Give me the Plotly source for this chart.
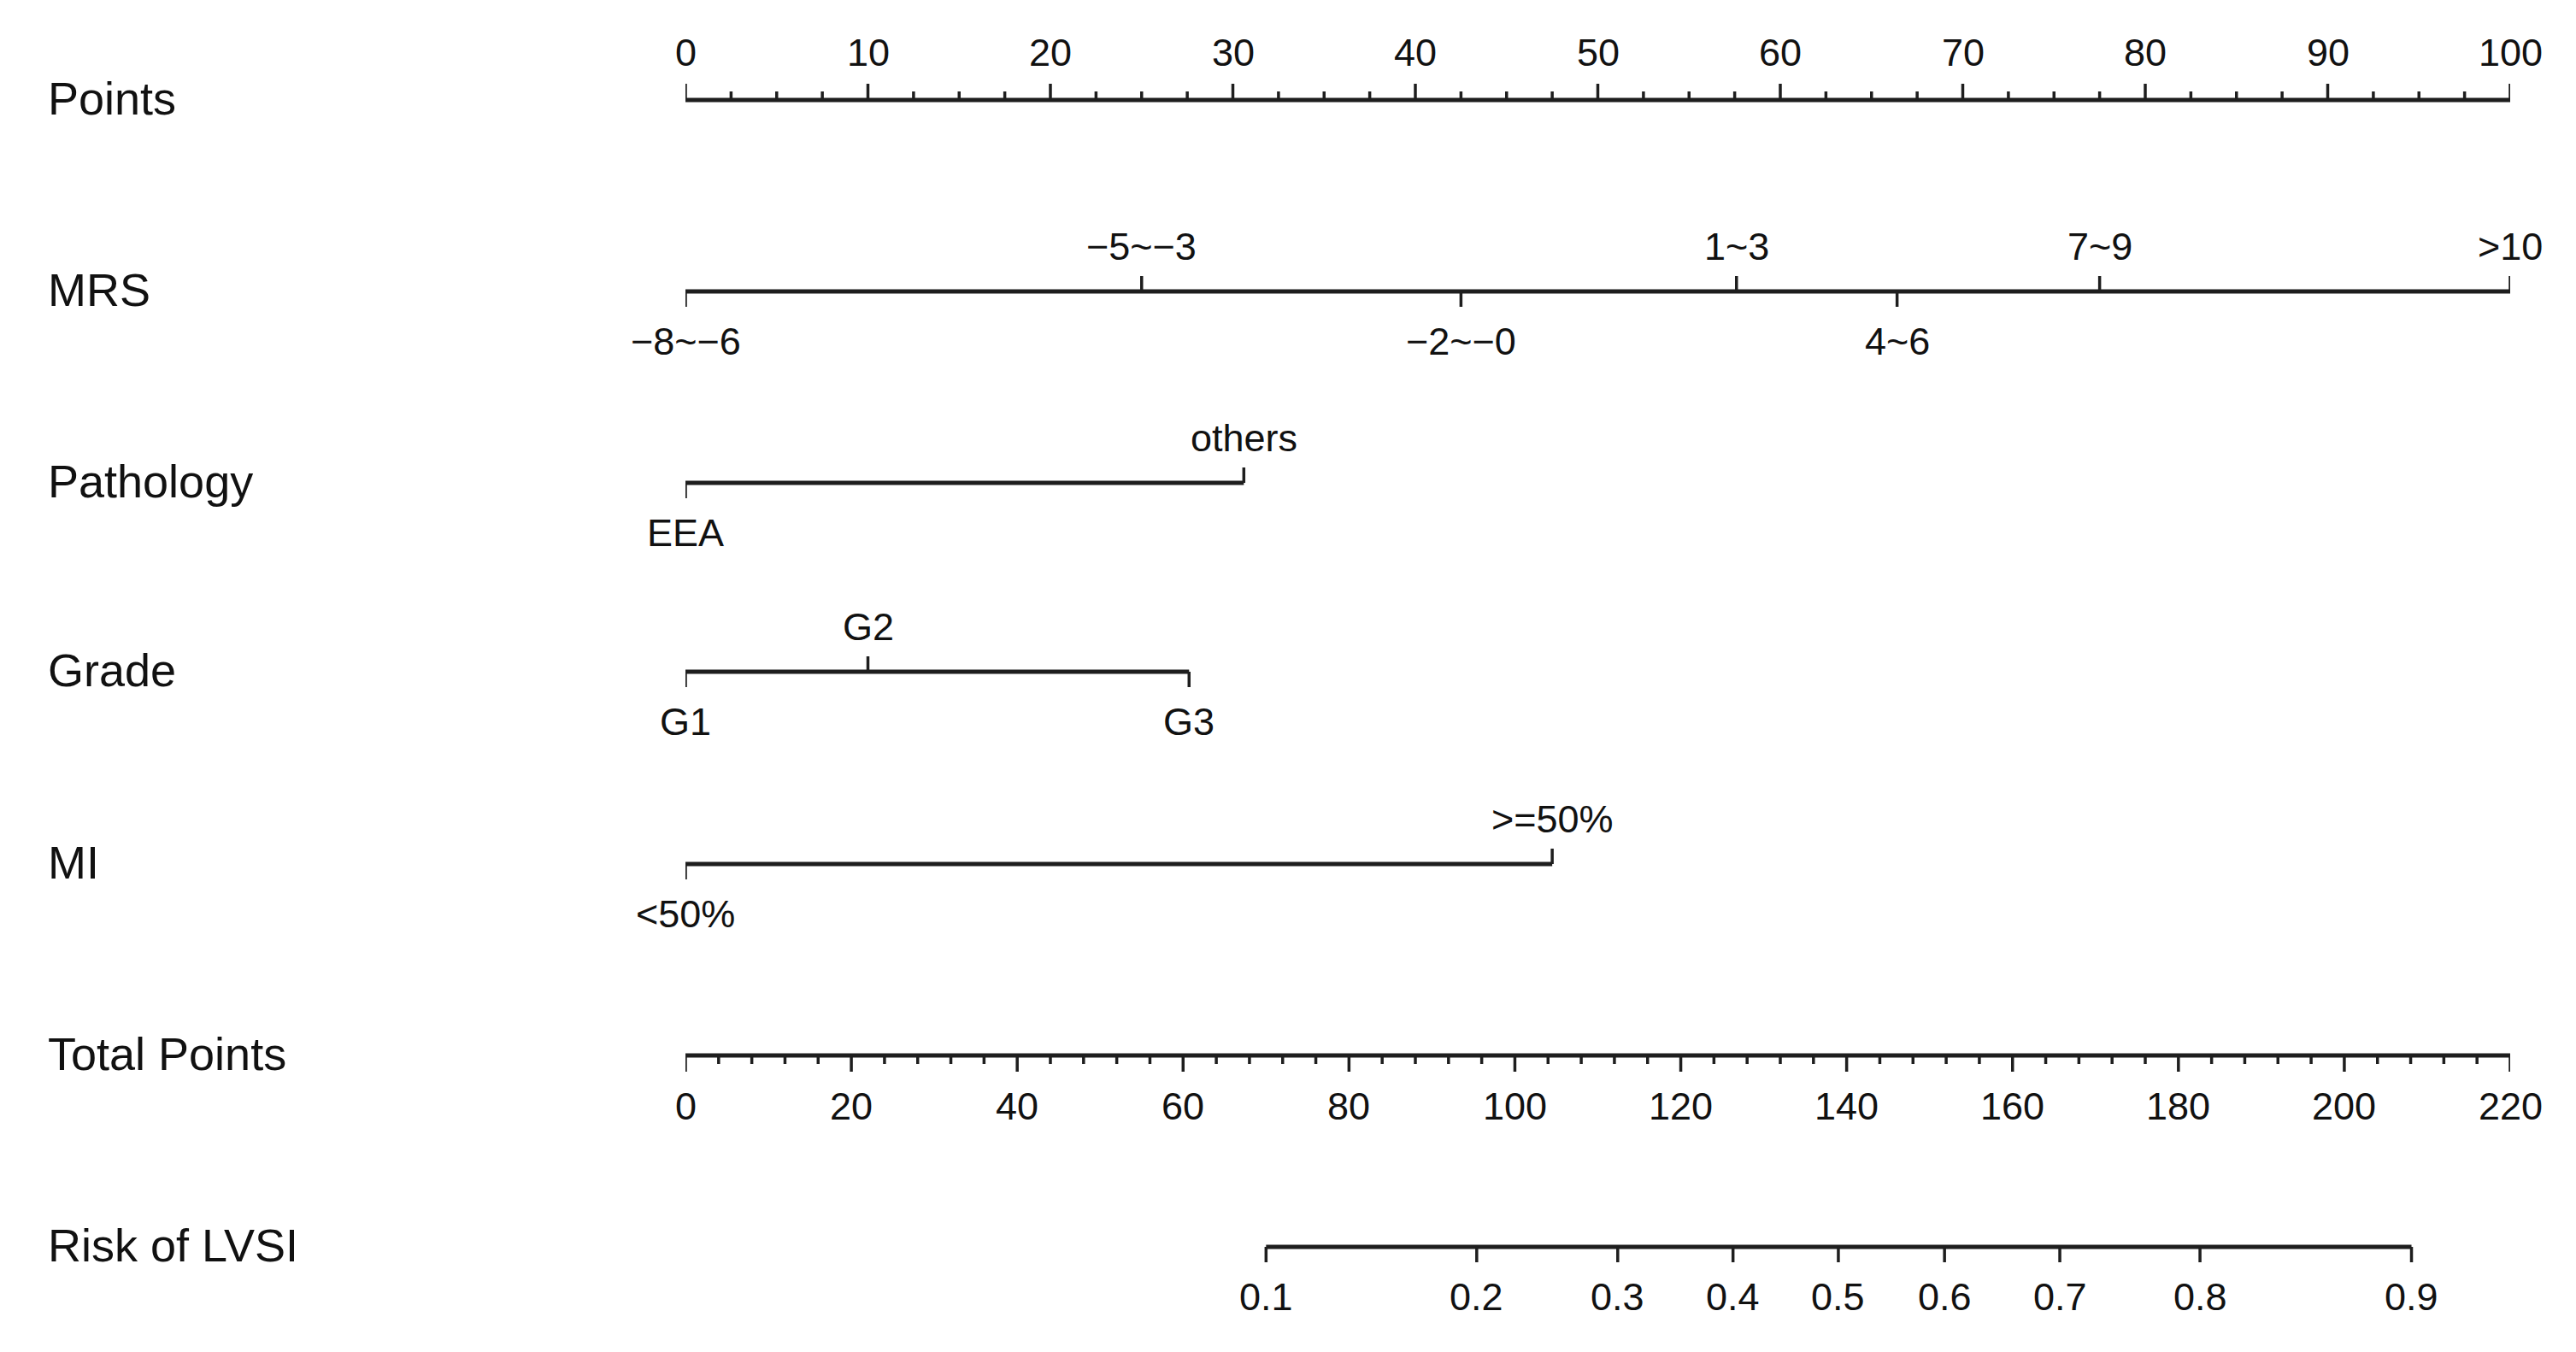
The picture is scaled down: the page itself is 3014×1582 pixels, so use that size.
import plotly.graph_objects as go

# ---------------- data ----------------
points_major = [0, 10, 20, 30, 40, 50, 60, 70, 80, 90, 100]
points_minor_step = 2.5

total_major = [0, 20, 40, 60, 80, 100, 120, 140, 160, 180, 200, 220]
total_minor_step = 4

mrs_labels = ["−8~−6", "−5~−3", "−2~−0", "1~3", "4~6", "7~9", ">10"]
mrs_points = [0, 25.0, 42.5, 57.6, 66.4, 77.5, 100]

path_labels = ["EEA", "others"]
path_points = [0, 30.6]

grade_labels = ["G1", "G2", "G3"]
grade_points = [0, 10.0, 27.6]

mi_labels = ["<50%", ">=50%"]
mi_points = [0, 47.5]

risk_labels = ["0.1", "0.2", "0.3", "0.4", "0.5", "0.6", "0.7", "0.8", "0.9"]
risk_total = [70.0, 95.4, 112.4, 126.3, 139.0, 151.8, 165.7, 182.6, 208.1]

row_names = ["Points", "MRS", "Pathology", "Grade", "MI", "Total Points", "Risk of LVSI"]

# ---------------- layout / style ----------------
OFF = 8  # page body margin
W, H = 3014, 1582
L, R = 802 - OFF, 3014 - 2937 + OFF
ROW_Y = {"Points": 117, "MRS": 341, "Pathology": 565, "Grade": 786,
         "MI": 1011, "Total Points": 1235, "Risk of LVSI": 1459}
ROW_Y = {k: v - OFF for k, v in ROW_Y.items()}
LINE_C = "#1e1e1e"
LW = 5
TW = 3.5
FONT = "Liberation Sans, Arial, Helvetica, sans-serif"
TICK_FS = 45
VAR_FS = 54
MAJ = 19
MIN = 10
CAT = 18
ABOVE = -53
BELOW = 58

fig = go.Figure()
annotations = []


def seg_trace(xs_pairs, ys_pairs, xaxis="x", width=LW):
    xs, ys = [], []
    for (x0, x1), (y0, y1) in zip(xs_pairs, ys_pairs):
        xs += [x0, x1, None]
        ys += [y0, y1, None]
    fig.add_trace(go.Scatter(x=xs, y=ys, mode="lines", xaxis=xaxis, yaxis="y",
                             line=dict(color=LINE_C, width=width),
                             hoverinfo="skip", showlegend=False))


def label(x, y, text, xref="x", size=TICK_FS):
    annotations.append(dict(x=x, y=y, xref=xref, yref="y", text=text, showarrow=False,
                            xanchor="center", yanchor="middle",
                            font=dict(size=size, color="#111111", family=FONT)))


# Points axis (ticks up)
y0 = ROW_Y["Points"]
seg_trace([(points_major[0], points_major[-1])], [(y0, y0)])
seg_trace([(v, v) for v in points_major], [(y0, y0 - MAJ)] * len(points_major), width=TW)
minor = []
v = points_major[0]
while v < points_major[-1]:
    if all(abs(v - m) > 1e-9 for m in points_major):
        minor.append(v)
    v += points_minor_step
seg_trace([(v, v) for v in minor], [(y0, y0 - MIN)] * len(minor), width=TW)
for v in points_major:
    label(v, y0 - 56, str(v))


# Categorical rows: a tick above the line for a label above, below for a label below
def cat_row(name, pts, labs):
    y = ROW_Y[name]
    seg_trace([(min(pts), max(pts))], [(y, y)])
    order = sorted(range(len(pts)), key=lambda i: pts[i])
    for k, i in enumerate(order):
        above = (k % 2 == 1)
        if name == "MRS" and k == len(order) - 1:
            above = True
        if above:
            seg_trace([(pts[i], pts[i])], [(y, y - CAT)], width=TW)
            label(pts[i], y + ABOVE, labs[i])
        else:
            seg_trace([(pts[i], pts[i])], [(y, y + CAT)], width=TW)
            label(pts[i], y + BELOW, labs[i])


cat_row("MRS", mrs_points, mrs_labels)
cat_row("Pathology", path_points, path_labels)
cat_row("Grade", grade_points, grade_labels)
cat_row("MI", mi_points, mi_labels)

# Total points axis (ticks down) on xaxis2
y0 = ROW_Y["Total Points"]
seg_trace([(total_major[0], total_major[-1])], [(y0, y0)], xaxis="x2")
seg_trace([(v, v) for v in total_major], [(y0, y0 + MAJ)] * len(total_major), xaxis="x2", width=TW)
tminor = []
v = total_major[0]
while v < total_major[-1]:
    if all(abs(v - m) > 1e-9 for m in total_major):
        tminor.append(v)
    v += total_minor_step
seg_trace([(v, v) for v in tminor], [(y0, y0 + MIN)] * len(tminor), xaxis="x2", width=TW)
for v in total_major:
    label(v, y0 + 59, str(v), xref="x2")

# Risk axis (positions in total points)
y0 = ROW_Y["Risk of LVSI"]
seg_trace([(risk_total[0], risk_total[-1])], [(y0, y0)], xaxis="x2")
seg_trace([(v, v) for v in risk_total], [(y0, y0 + CAT)] * len(risk_total), xaxis="x2", width=TW)
for v, t in zip(risk_total, risk_labels):
    label(v, y0 + 58, t, xref="x2")

# Row names
plot_w = W - L - R
for name in row_names:
    annotations.append(dict(x=(54 - OFF - L) / plot_w, y=ROW_Y[name] - 2, xref="paper", yref="y",
                            text=name, showarrow=False, xanchor="left", yanchor="middle",
                            font=dict(size=VAR_FS, color="#111111", family=FONT)))

fig.update_layout(
    width=W, height=H,
    margin=dict(l=L, r=R, t=0, b=0, pad=0),
    paper_bgcolor="white", plot_bgcolor="white",
    xaxis=dict(range=[0, 100], visible=False, fixedrange=True),
    xaxis2=dict(range=[0, 220], visible=False, overlaying="x", fixedrange=True),
    yaxis=dict(range=[H, 0], visible=False, fixedrange=True),
    annotations=annotations,
    showlegend=False,
)

fig.write_html("out.html")
